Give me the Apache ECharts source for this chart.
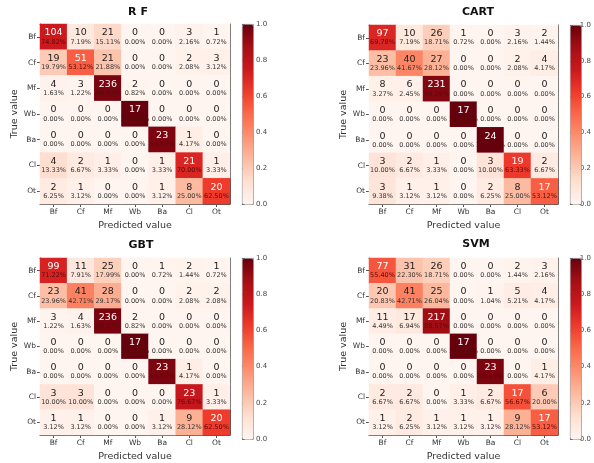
<!DOCTYPE html>
<html>
<head>
<meta charset="utf-8">
<script src="https://cdn.jsdelivr.net/npm/echarts@6/dist/echarts.min.js"></script>
<style>
  html, body { margin: 0; padding: 0; background: #fff; }
  #chart { width: 594px; height: 463px; }
</style>
</head>
<body>
<div id="chart"></div>
<script>
// class labels, same order on both axes
const classes = ['Bf', 'Cf', 'Mf', 'Wb', 'Ba', 'Cl', 'Ot'];
const modelNames = ['R F', 'CART', 'GBT', 'SVM'];

// confusion matrix counts, rows = true value, columns = predicted value
const rfCounts = [
    [104, 10, 21, 0, 0, 3, 1],
    [19, 51, 21, 0, 0, 2, 3],
    [4, 3, 236, 2, 0, 0, 0],
    [0, 0, 0, 17, 0, 0, 0],
    [0, 0, 0, 0, 23, 1, 0],
    [4, 2, 1, 0, 1, 21, 1],
    [2, 1, 0, 0, 1, 8, 20]
];
const cartCounts = [
    [97, 10, 26, 1, 0, 3, 2],
    [23, 40, 27, 0, 0, 2, 4],
    [8, 6, 231, 0, 0, 0, 0],
    [0, 0, 0, 17, 0, 0, 0],
    [0, 0, 0, 0, 24, 0, 0],
    [3, 2, 1, 0, 3, 19, 2],
    [3, 1, 1, 0, 2, 8, 17]
];
const gbtCounts = [
    [99, 11, 25, 0, 1, 2, 1],
    [23, 41, 28, 0, 0, 2, 2],
    [3, 4, 236, 2, 0, 0, 0],
    [0, 0, 0, 17, 0, 0, 0],
    [0, 0, 0, 0, 23, 1, 0],
    [3, 3, 0, 0, 0, 23, 1],
    [1, 1, 0, 0, 1, 9, 20]
];
const svmCounts = [
    [77, 31, 26, 0, 0, 2, 3],
    [20, 41, 25, 0, 1, 5, 4],
    [11, 17, 217, 0, 0, 0, 0],
    [0, 0, 0, 17, 0, 0, 0],
    [0, 0, 0, 0, 23, 0, 1],
    [2, 2, 0, 1, 2, 17, 6],
    [1, 2, 1, 1, 1, 9, 17]
];
const allCounts = [rfCounts, cartCounts, gbtCounts, svmCounts];

// matplotlib "Reds"
const reds = ['#fff5f0', '#fee0d2', '#fcbba1', '#fc9272', '#fb6a4a', '#ef3b2c', '#cb181d', '#a50f15', '#67000d'];
const font = 'DejaVu Sans';

// pixel layout of the four panels
const panels = [
    { left: 40, top: 24, width: 190, height: 180, cbLeft: 242, titleX: 138, titleY: 7 },
    { left: 369, top: 25, width: 189, height: 179, cbLeft: 570, titleX: 478, titleY: 7 },
    { left: 40, top: 258, width: 190, height: 181, cbLeft: 242, titleX: 141, titleY: 240 },
    { left: 369, top: 258, width: 189, height: 181, cbLeft: 570, titleX: 476, titleY: 239 }
];

// python-style half-even rounding to 2 decimals
function fmtPct(v) {
    let x = v * 10000;
    let f = Math.floor(x);
    let d = x - f;
    let r;
    if (Math.abs(d - 0.5) < 1e-7) r = (f % 2 === 0) ? f : f + 1;
    else r = Math.round(x);
    return (r / 100).toFixed(2) + '%';
}

const grid = [], xAxis = [], yAxis = [], series = [], visualMap = [], title = [];
const axisColor = '#555';

panels.forEach((p, i) => {
    const counts = allCounts[i];
    const g = grid.length;
    grid.push({ left: p.left, top: p.top, width: p.width, height: p.height });
    grid.push({ left: p.cbLeft, top: p.top, width: 11, height: p.height });

    title.push({
        text: modelNames[i], left: p.titleX, top: p.titleY, textAlign: 'center', padding: 0,
        textStyle: { fontFamily: font, fontSize: 11, fontWeight: 'bold', color: '#111' }
    });

    const xb = xAxis.length;
    xAxis.push({
        gridIndex: g, type: 'category', data: classes, position: 'bottom',
        name: 'Predicted value', nameLocation: 'middle', nameGap: 17,
        nameTextStyle: { fontFamily: font, fontSize: 9.5, color: '#333' },
        axisLine: { show: true, lineStyle: { color: axisColor, width: 1 } },
        axisTick: { show: true, alignWithLabel: true, length: 3, lineStyle: { color: axisColor } },
        axisLabel: { fontFamily: font, fontSize: 7.5, color: '#333', margin: 4 },
        splitLine: { show: false }
    });
    xAxis.push({
        gridIndex: g, type: 'category', data: classes, position: 'top',
        axisLine: { show: true, lineStyle: { color: axisColor, width: 1 } },
        axisTick: { show: false }, axisLabel: { show: false }, splitLine: { show: false }
    });
    xAxis.push({ gridIndex: g + 1, type: 'value', min: 0, max: 1, show: false });

    const yl = yAxis.length;
    yAxis.push({
        gridIndex: g, type: 'category', data: classes, inverse: true, position: 'left',
        name: 'True value', nameLocation: 'middle', nameGap: 19,
        nameTextStyle: { fontFamily: font, fontSize: 9.5, color: '#333' },
        axisLine: { show: true, lineStyle: { color: axisColor, width: 1 } },
        axisTick: { show: true, alignWithLabel: true, length: 3, lineStyle: { color: axisColor } },
        axisLabel: { fontFamily: font, fontSize: 7.5, color: '#333', margin: 4 },
        splitLine: { show: false }
    });
    yAxis.push({
        gridIndex: g, type: 'category', data: classes, inverse: true, position: 'right',
        axisLine: { show: true, lineStyle: { color: axisColor, width: 1 } },
        axisTick: { show: false }, axisLabel: { show: false }, splitLine: { show: false }
    });
    yAxis.push({
        gridIndex: g + 1, type: 'value', min: 0, max: 1, interval: 0.2, position: 'right',
        axisLine: { show: false },
        axisTick: { show: true, length: 3, lineStyle: { color: axisColor } },
        axisLabel: { fontFamily: font, fontSize: 7, color: '#444', margin: 3, formatter: v => v.toFixed(1) },
        splitLine: { show: false }
    });

    const data = [];
    counts.forEach((row, r) => {
        const total = row.reduce((a, b) => a + b, 0);
        row.forEach((c, col) => {
            data.push([col, r, c / total, c]);
        });
    });

    series.push({
        type: 'heatmap', xAxisIndex: xb, yAxisIndex: yl, data: data,
        label: {
            show: true,
            fontFamily: font,
            formatter: (params) => {
                const v = params.value;
                const dark = v[2] > 0.5;
                return dark
                    ? `{cw|${v[3]}}\n{pw|${fmtPct(v[2])}}`
                    : `{cd|${v[3]}}\n{pd|${fmtPct(v[2])}}`;
            },
            rich: {
                cw: { fontFamily: font, fontSize: 9.5, color: '#fff', lineHeight: 10 },
                cd: { fontFamily: font, fontSize: 9.5, color: '#222', lineHeight: 10 },
                pw: { fontFamily: font, fontSize: 6.5, color: '#5a0a0a', lineHeight: 8 },
                pd: { fontFamily: font, fontSize: 6.5, color: '#333', lineHeight: 8 }
            }
        },
        emphasis: { disabled: true }
    });

    visualMap.push({
        type: 'continuous', seriesIndex: i, dimension: 2, min: 0, max: 1,
        calculable: false, left: p.cbLeft, top: p.top, itemWidth: 11, itemHeight: p.height,
        padding: 0, text: null, borderColor: '#777', borderWidth: 0.8,
        inRange: { color: reds }
    });
});

const chart = echarts.init(document.getElementById('chart'), null, { renderer: 'canvas' });
chart.setOption({
    backgroundColor: '#ffffff',
    animation: false,
    title: title,
    grid: grid,
    xAxis: xAxis,
    yAxis: yAxis,
    visualMap: visualMap,
    series: series
});
</script>
</body>
</html>
